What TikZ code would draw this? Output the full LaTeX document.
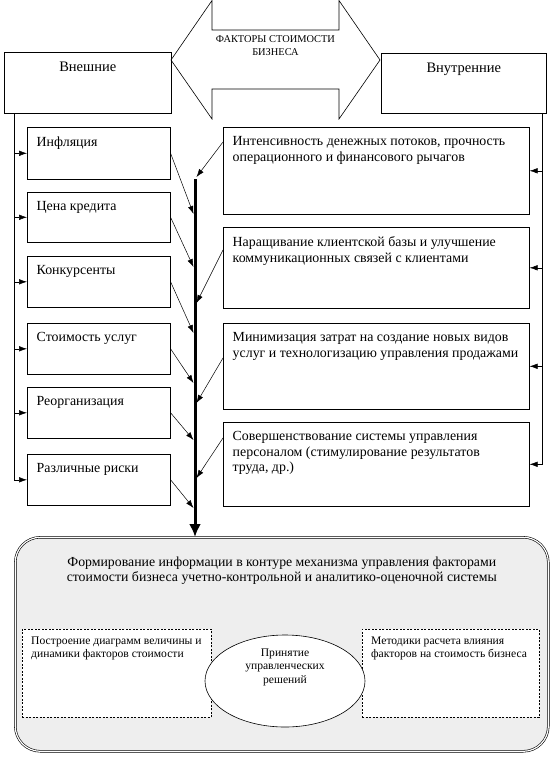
\documentclass[tikz,border=0pt]{standalone}
\usepackage{fontspec}
\setmainfont{Liberation Serif}
\usepackage{tikz}
\usetikzlibrary{shapes, arrows, arrows.meta}

\begin{document}
\begin{tikzpicture}[x=1pt, y=-1pt,
        box/.style = {draw, rectangle, anchor=north west, inner sep=0pt, line width=0.6pt},
        txt/.style = {anchor=north west, align=left, inner sep=0pt, xshift=9.5pt, yshift=-9.5pt, font=\fontsize{13.9}{15.5}\selectfont},
        head/.style = {anchor=north, inner sep=0pt, yshift=-9.5pt, font=\fontsize{14.5}{15}\selectfont},
        small/.style = {anchor=north west, align=left, inner sep=0pt, xshift=9pt, yshift=-8pt, font=\fontsize{11.6}{12.5}\selectfont},
        dashbox/.style = {box, fill=white, dash pattern=on 2pt off 1.5pt, line width=0.8pt},
        arr/.style = {line width=0.5pt, -{Latex[length=8pt, width=5.5pt]}},
        spine/.style = {line width=3pt, -{Latex[length=13pt, width=12pt]}}]
        \useasboundingbox (0,0) rectangle (556,757);

        % top arrow and two groups
        \draw[line width=0.6pt] (171,60) -- (212,0.5) -- (212,30) -- (339,30) -- (339,0.5) -- (380,60)
                -- (339,119) -- (339,89) -- (212,89) -- (212,119) -- cycle;
        \node[align=center, inner sep=0pt, font=\fontsize{10.4}{13}\selectfont] at (275.5,45.5) (fact) {ФАКТОРЫ СТОИМОСТИ\\БИЗНЕСА};
        \node[box, minimum width=167pt, minimum height=61pt, label={[head]north:Внешние}] at (4,52) (vnesh) {};
        \node[box, minimum width=165pt, minimum height=60pt, label={[head]north:Внутренние}] at (381,53) (vnutr) {};

        % external factors
        \node[box, minimum width=143pt, minimum height=52pt, label={[txt]north west:Инфляция}] at (27,127) (infl) {};
        \node[box, minimum width=143pt, minimum height=50pt, label={[txt]north west:Цена кредита}] at (27,192) (cena) {};
        \node[box, minimum width=143pt, minimum height=51pt, label={[txt]north west:Конкурсенты}] at (27,256) (konk) {};
        \node[box, minimum width=143pt, minimum height=51pt, label={[txt]north west:Стоимость услуг}] at (27,323) (usl) {};
        \node[box, minimum width=143pt, minimum height=51pt, label={[txt]north west:Реорганизация}] at (27,387) (reorg) {};
        \node[box, minimum width=143pt, minimum height=51pt, label={[txt]north west:Различные риски}] at (27,454) (riski) {};

        % internal factors
        \node[box, minimum width=306pt, minimum height=87pt, label={[txt]north west:Интенсивность денежных потоков, прочность\\операционного и финансового рычагов}] at (223,127) (potok) {};
        \node[box, minimum width=306pt, minimum height=81pt, label={[txt]north west:Наращивание клиентской базы и улучшение\\коммуникационных связей с клиентами}] at (223,227) (baza) {};
        \node[box, minimum width=306pt, minimum height=86pt, label={[txt]north west:Минимизация затрат на создание новых видов\\услуг и технологизацию управления продажами}] at (223,323) (zatr) {};
        \node[box, minimum width=306pt, minimum height=84pt, label={[txt]north west:Совершенствование системы управления\\персоналом (стимулирование результатов\\труда, др.)}] at (223,422) (pers) {};

        % bottom block
        \node[draw, anchor=north west, inner sep=0pt, rounded corners=25pt, double, double distance=1.2pt, line width=0.6pt, fill=gray!13,
                minimum width=533pt, minimum height=214pt,
                label={[anchor=north, align=center, inner sep=0pt, yshift=-20pt, font=\fontsize{13.8}{15}\selectfont]north:Формирование информации в контуре механизма управления факторами\\стоимости бизнеса учетно-контрольной и аналитико-оценочной системы}] at (15,537) (itog) {};
        \node[dashbox, minimum width=189pt, minimum height=88pt, label={[small]north west:Построение диаграмм величины и\\динамики факторов стоимости}] at (22,629) (diagr) {};
        \node[dashbox, minimum width=177pt, minimum height=88pt, label={[small]north west:Методики расчета влияния\\факторов на стоимость бизнеса}] at (362,629) (metod) {};
        \node[draw, ellipse, fill=white, line width=0.6pt, minimum width=160pt, minimum height=92pt,
                label={[align=center, inner sep=0pt, yshift=14pt, font=\fontsize{11.6}{13.5}\selectfont]center:Принятие\\управленческих\\решений}] at (285,681) (resh) {};

        % brackets
        \coordinate (vb) at ([xshift=10pt]vnesh.south west);
        \coordinate (rb) at ([xshift=-4pt]vnutr.south east);
        \foreach \n in {infl, cena, konk, usl, reorg, riski}
                \draw[arr] (vb) |- (\n.west);
        \foreach \n in {potok, baza, zatr, pers}
                \draw[arr] (rb) |- (\n.east);

        % spine
        \coordinate (sp) at (195,179);
        \draw[spine] (sp) -- (sp |- itog.north);
        \foreach \n/\y [count=\i] in {infl/214, cena/267, konk/333, usl/383, reorg/440, riski/508} {
                \coordinate (sl\i) at (193.5,\y);
                \draw[arr] (\n.east) -- (sl\i);
        }
        \foreach \n/\d/\y [count=\i] in {potok/15/177, baza/23/303, zatr/35/403, pers/16/478} {
                \coordinate (sr\i) at (196.5,\y);
                \draw[arr] ([yshift=-\d pt]\n.north west) -- (sr\i);
        }
\end{tikzpicture}
\end{document}
